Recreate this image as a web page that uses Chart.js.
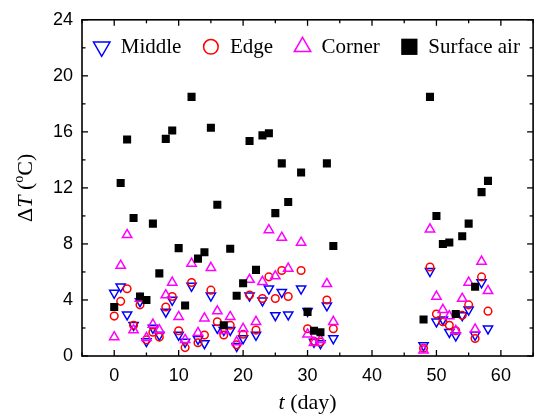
<!DOCTYPE html>
<html>
<head>
<meta charset="utf-8">
<script src="https://cdn.jsdelivr.net/npm/chart.js@4.4.0/dist/chart.umd.min.js"></script>
<style>
  html, body { margin: 0; padding: 0; background: #fff; overflow: hidden; }
  #wrap { width: 540px; height: 415px; }
</style>
</head>
<body>
<div id="wrap"><canvas id="chart" width="540" height="415"></canvas></div>
<script>
// days of measurement (x)
const days = [0, 1, 2, 3, 4, 5, 6, 7, 8, 9, 10, 11, 12, 13, 14, 15, 16, 17, 18, 19, 20,
  21, 22, 23, 24, 25, 26, 27, 29, 30, 31, 32, 33, 34,
  48, 49, 50, 51, 52, 53, 54, 55, 56, 57, 58];

// temperature differences, deg C
const middle = [4.5, 4.95, 2.95, 2.2, 3.9, 1.05, 2.0, 1.5, 3.15, 4.0, 1.5, 1.0, 5.0, 1.2, 0.9, 4.3, 2.0, 1.85, 1.85, 0.7, 1.25,
  4.3, 1.5, 3.95, 4.8, 2.9, 4.55, 2.95, 4.8, 3.2, 1.0, 0.9, 3.6, 1.25,
  0.75, 6.05, 2.45, 2.6, 1.7, 1.45, 2.9, 3.3, 1.5, 5.25, 1.95];
const edge = [2.85, 3.9, 4.8, 2.2, 3.65, 1.15, 1.7, 1.35, 3.5, 4.25, 1.8, 0.6, 5.25, 0.95, 1.5, 4.7, 2.45, 1.5, 2.2, 0.8, 1.55,
  4.35, 1.85, 4.1, 5.65, 4.1, 6.1, 4.25, 6.1, 1.95, 1.05, 1.0, 4.0, 1.95,
  0.55, 6.35, 3.0, 2.45, 2.2, 1.8, 2.9, 3.65, 1.25, 5.65, 3.2];
const corner = [1.35, 6.45, 8.65, 1.85, 4.1, 1.3, 2.25, 1.85, 4.35, 5.25, 2.8, 1.15, 6.6, 1.65, 2.7, 6.3, 3.2, 1.8, 2.8, 1.0, 1.95,
  5.45, 2.45, 5.3, 9.0, 5.7, 8.45, 6.25, 8.1, 1.55, 0.95, 1.15, 5.15, 2.45,
  0.4, 9.05, 4.25, 3.3, 2.85, 1.8, 4.1, 5.25, 1.9, 6.75, 4.65];
const surfaceAir = [3.5, 12.35, 15.45, 9.85, 4.25, 4.0, 9.45, 5.9, 15.5, 16.1, 7.7, 3.6, 18.5, 6.95, 7.4, 16.3, 10.8, 2.2, 7.65, 4.3, 5.2,
  15.35, 6.15, 15.75, 15.9, 10.2, 13.75, 11.0, 13.1, 3.15, 1.8, 1.7, 13.75, 7.85,
  2.6, 18.5, 10.0, 8.0, 8.1, 3.0, 8.55, 9.45, 4.95, 11.7, 12.5];

const seriesNames = ['Middle', 'Edge', 'Corner', 'Surface air'];
const xTicks = [0, 10, 20, 30, 40, 50, 60];
const xMinor = [-5, 5, 15, 25, 35, 45, 55, 65];
const yTicks = [0, 4, 8, 12, 16, 20, 24];
const yMinor = [2, 6, 10, 14, 18, 22];

const pts = vals => days.map((d, i) => ({ x: d, y: vals[i] }));
const clear = 'rgba(0,0,0,0)';

function mk(label, vals, color, style, rot, r, legendR, filled, order) {
  return {
    label: label,
    data: pts(vals),
    showLine: false,
    order: order,
    legendRadius: legendR,
    pointStyle: style,
    pointRotation: rot,
    pointRadius: r,
    pointHoverRadius: r,
    pointBorderWidth: filled ? 0 : 1.5,
    pointBorderColor: color,
    pointBackgroundColor: filled ? color : clear,
    borderColor: color,
    backgroundColor: filled ? color : clear
  };
}

const datasets = [
  mk(seriesNames[0], middle, '#0000ff', 'triangle', 180, 5.3, 9.5, false, 4),
  mk(seriesNames[1], edge, '#ff0000', 'circle', 0, 3.8, 7.3, false, 3),
  mk(seriesNames[2], corner, '#ff00ff', 'triangle', 0, 5.4, 9.5, false, 2),
  mk(seriesNames[3], surfaceAir, '#000000', 'rect', 0, 5.7, 11.5, true, 1)
];

function line(ctx, x1, y1, x2, y2) {
  ctx.beginPath(); ctx.moveTo(x1, y1); ctx.lineTo(x2, y2); ctx.stroke();
}

function drawMarker(ctx, ds, x, y) {
  ctx.save();
  ctx.strokeStyle = ds.pointBorderColor;
  ctx.fillStyle = ds.pointBackgroundColor;
  ctx.lineWidth = ds.pointBorderWidth;
  const opts = { pointStyle: ds.pointStyle, rotation: ds.pointRotation, radius: ds.legendRadius, borderWidth: ds.pointBorderWidth };
  Chart.helpers.drawPoint(ctx, opts, x, y);
  ctx.restore();
}

// box with inward ticks, axis titles and the legend
const framePlugin = {
  id: 'frame',
  afterDraw(chart) {
    const ctx = chart.ctx;
    const xs = chart.scales.x, ys = chart.scales.y;
    const { left, right, top, bottom } = chart.chartArea;
    ctx.save();
    ctx.strokeStyle = '#000';
    ctx.lineWidth = 1.6;
    ctx.strokeRect(left, top, right - left, bottom - top);
    ctx.lineWidth = 1.3;
    xTicks.concat(xMinor).forEach(v => {
      const px = xs.getPixelForValue(v);
      const len = xTicks.includes(v) ? 6 : 3.5;
      line(ctx, px, bottom, px, bottom - len);
      line(ctx, px, top, px, top + len);
    });
    yTicks.concat(yMinor).forEach(v => {
      const py = ys.getPixelForValue(v);
      const len = yTicks.includes(v) ? 6 : 3.5;
      line(ctx, left, py, left + len, py);
      line(ctx, right, py, right - len, py);
    });

    // x title: t (day)
    ctx.fillStyle = '#000';
    ctx.textBaseline = 'alphabetic';
    const cx = (left + right) / 2;
    const serif = '"Liberation Serif", "Times New Roman", serif';
    const xParts = [['italic 22px ' + serif, 't'], ['22px ' + serif, ' (day)']];
    let w = 0;
    xParts.forEach(p => { ctx.font = p[0]; w += ctx.measureText(p[1]).width; });
    let x0 = cx - w / 2;
    xParts.forEach(p => { ctx.font = p[0]; ctx.fillText(p[1], x0, 409); x0 += ctx.measureText(p[1]).width; });

    // y title: ΔT (°C)
    ctx.save();
    ctx.translate(32, (top + bottom) / 2);
    ctx.rotate(-Math.PI / 2);
    const yParts = [['22px ' + serif, '\u0394', 0], ['italic 22px ' + serif, 'T', 0], ['22px ' + serif, ' (', 0],
      ['14px ' + serif, 'o', -9], ['22px ' + serif, 'C)', 0]];
    w = 0;
    yParts.forEach(p => { ctx.font = p[0]; w += ctx.measureText(p[1]).width; });
    x0 = -w / 2;
    yParts.forEach(p => { ctx.font = p[0]; ctx.fillText(p[1], x0, p[2]); x0 += ctx.measureText(p[1]).width; });
    ctx.restore();

    // legend inside the plot
    ctx.font = '21px ' + serif;
    const gapText = 19, gapItem = 29.5, half = 8.5;
    const widths = chart.data.datasets.map(ds => ctx.measureText(ds.label).width);
    let total = half + gapItem * (widths.length - 1);
    widths.forEach(tw => { total += gapText + tw; });
    let mx = cx - 1 - total / 2 + half;
    const ly = top + 27;
    chart.data.datasets.forEach((ds, i) => {
      drawMarker(ctx, ds, mx, ly);
      ctx.fillStyle = '#000';
      ctx.textBaseline = 'middle';
      ctx.font = '21px ' + serif;
      ctx.fillText(ds.label, mx + gapText, ly + 1);
      mx += gapText + widths[i] + gapItem;
    });
    ctx.restore();
  }
};

const sans = '"Liberation Sans", Arial, Helvetica, sans-serif';

new Chart(document.getElementById('chart'), {
  type: 'scatter',
  data: { datasets: datasets },
  options: {
    responsive: false,
    animation: false,
    events: [],
    layout: { padding: { left: 0, top: 16, right: 2, bottom: 0 } },
    plugins: { legend: { display: false }, tooltip: { enabled: false } },
    scales: {
      x: {
        type: 'linear', min: -5, max: 65,
        afterBuildTicks: s => { s.ticks = xTicks.map(v => ({ value: v })); },
        afterFit: s => { s.height = 59; },
        grid: { display: false, drawTicks: false },
        border: { display: false },
        ticks: { color: '#000', font: { family: sans, size: 18 }, padding: 9, maxRotation: 0 }
      },
      y: {
        type: 'linear', min: 0, max: 24,
        afterBuildTicks: s => { s.ticks = yTicks.map(v => ({ value: v })); },
        afterFit: s => { s.width = 82; },
        grid: { display: false, drawTicks: false },
        border: { display: false },
        ticks: { color: '#000', font: { family: sans, size: 18 }, padding: 9 }
      }
    }
  },
  plugins: [framePlugin]
});
</script>
</body>
</html>
